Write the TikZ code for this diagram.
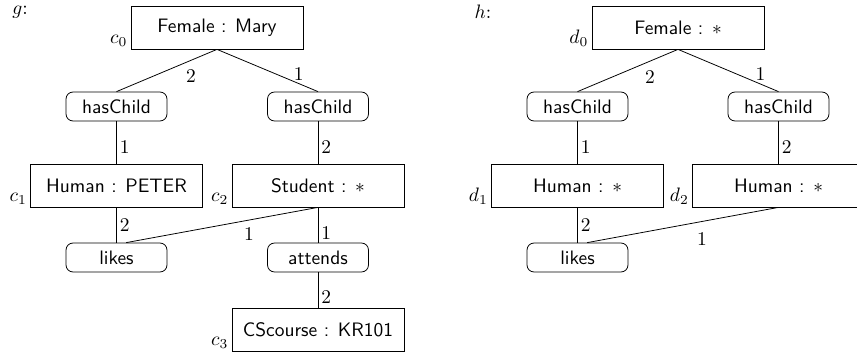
\documentclass[tikz,border=0pt]{standalone}
\usepackage{tikz}
\usetikzlibrary{calc}

\begin{document}
\begin{tikzpicture}[x=0.514pt,y=0.514pt,
	concept/.style={draw, minimum width=88.4pt, minimum height=22.1pt, inner sep=2pt, font=\sffamily},
	relation/.style={draw, rounded corners=3.6pt, minimum width=51.9pt, minimum height=14.9pt, inner sep=1pt, font=\sffamily},
	marker/.style={inner sep=1.5pt, anchor=south east},
	arity/.style={inner sep=1.5pt}]
	%%%%% START %%%%%
	\def\xgl{116.5}
	\def\xgr{318}
	\def\xhl{577.5}
	\def\xhr{778.5}
	\def\xgt{217}
	\def\xht{678}
	\def\ytop{326.5}
	\def\yrel{247.5}
	\def\ymid{168.5}
	\def\ylow{96.5}
	\def\ybot{24}
	\def\dt{5}
	
	\useasboundingbox (0,0) rectangle (857,354);
	
	% graph g
	\node at (20,342) {$g$:};
	\node[concept] (c0) at (\xgt,\ytop) {Female : Mary};
	\node[relation] (gchA) at (\xgl,\yrel) {hasChild};
	\node[relation] (gchB) at (\xgr,\yrel) {hasChild};
	\node[concept] (c1) at (\xgl,\ymid) {Human : PETER};
	\node[concept] (c2) at (\xgr,\ymid) {Student : $*$};
	\node[relation] (glikes) at (\xgl,\ylow) {likes};
	\node[relation] (gatt) at (\xgr,\ylow) {attends};
	\node[concept] (c3) at (\xgr,\ybot) {CScourse : KR101};
	
	\node[marker] at (c0.south west) {$c_0$};
	\node[marker] at (c1.south west) {$c_1$};
	\node[marker] at (c2.south west) {$c_2$};
	\node[marker] at (c3.south west) {$c_3$};
	
	\draw (c0.south) -- node[arity, pos=0.26, below=3pt] {2} (gchA.north);
	\draw (c0.south) -- node[arity, pos=0.81, above=0pt] {1} (gchB.north);
	\draw (gchA.south) -- node[arity, pos=0.6, right] {1} (c1.north);
	\draw (gchB.south) -- node[arity, pos=0.6, right] {2} (c2.north);
	\draw (c1.south) -- node[arity, pos=0.5, right] {2} (glikes.north);
	\draw (c2.south) -- node[arity, pos=0.36, below=2pt] {1} ([xshift=\dt]glikes.north);
	\draw (c2.south) -- node[arity, pos=0.72, right] {1} (gatt.north);
	\draw (gatt.south) -- node[arity, pos=0.69, right] {2} (c3.north);
	
	% graph h
	\node at (483,342) {$h$:};
	\node[concept] (d0) at (\xht,\ytop) {Female : $*$};
	\node[relation] (hchA) at (\xhl,\yrel) {hasChild};
	\node[relation] (hchB) at (\xhr,\yrel) {hasChild};
	\node[concept] (d1) at (\xhl,\ymid) {Human : $*$};
	\node[concept] (d2) at (\xhr,\ymid) {Human : $*$};
	\node[relation] (hlikes) at (\xhl,\ylow) {likes};
	
	\node[marker] at (d0.south west) {$d_0$};
	\node[marker] at (d1.south west) {$d_1$};
	\node[marker] at (d2.south west) {$d_2$};
	
	\draw (d0.south) -- node[arity, pos=0.28, below=3pt] {2} (hchA.north);
	\draw (d0.south) -- node[arity, pos=0.82, above=0pt] {1} (hchB.north);
	\draw (hchA.south) -- node[arity, pos=0.6, right] {1} (d1.north);
	\draw (hchB.south) -- node[arity, pos=0.6, right] {2} (d2.north);
	\draw (d1.south) -- node[arity, pos=0.5, right] {2} (hlikes.north);
	\draw (d2.south) -- node[arity, pos=0.4, below=4pt] {1} ([xshift=\dt]hlikes.north);
	%%%%% END %%%%%
\end{tikzpicture}
\end{document}
